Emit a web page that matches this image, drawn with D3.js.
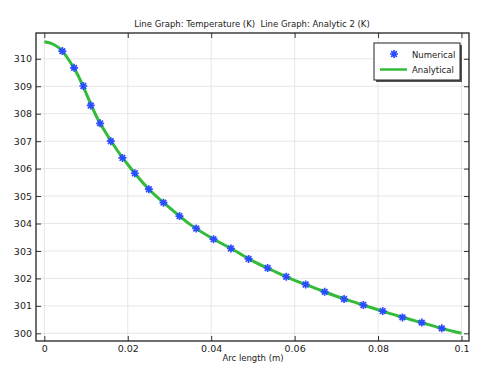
<!DOCTYPE html>
<html>
<head>
<meta charset="utf-8">
<script src="https://cdn.jsdelivr.net/npm/d3@7"></script>
<style>
  body { margin: 0; background: #fff; }
  svg { display: block; font-family: "DejaVu Sans", sans-serif; }
</style>
</head>
<body>
<div id="chart"></div>
<script>
// Numerical solution (markers)
const numX = [0.00432, 0.00713, 0.00936, 0.01113, 0.01337, 0.01593, 0.01872, 0.02169, 0.02505,
    0.02856, 0.0324, 0.0364, 0.04056, 0.04473, 0.04896, 0.05352, 0.058, 0.06264, 0.0672,
    0.07185, 0.07648, 0.08112, 0.08584, 0.09047, 0.09527];
const numT = [310.28, 309.67, 309.01, 308.30, 307.65, 307.00, 306.39, 305.83, 305.25,
    304.76, 304.27, 303.82, 303.43, 303.09, 302.71, 302.38, 302.06, 301.78, 301.51,
    301.25, 301.03, 300.81, 300.58, 300.39, 300.18];

// Analytical solution (line)
const anaX = [0, 0.002, 0.004, 0.006, 0.008, 0.01, 0.0125, 0.015, 0.0175, 0.02, 0.025, 0.03,
    0.035, 0.04, 0.045, 0.05, 0.055, 0.06, 0.065, 0.07, 0.075, 0.08, 0.085, 0.09, 0.095, 0.1];
const anaT = [310.62, 310.54, 310.33, 309.93, 309.42, 308.75, 307.90, 307.24, 306.66, 306.15,
    305.26, 304.58, 303.96, 303.48, 303.07, 302.63, 302.27, 301.93, 301.64, 301.35, 301.10,
    300.86, 300.62, 300.41, 300.19, 300.00];

const xTicks = [0, 0.02, 0.04, 0.06, 0.08, 0.1];
const yTicks = [300, 301, 302, 303, 304, 305, 306, 307, 308, 309, 310];

const width = 492, height = 373;
const margin = {top: 33, right: 23, bottom: 32, left: 36};
const innerWidth = width - margin.left - margin.right,
    innerHeight = height - margin.top - margin.bottom;

const svg = d3.select("#chart")
    .append("svg")
    .attr("width", width)
    .attr("height", height);

const g = svg.append("g")
    .attr("transform", "translate(" + margin.left + "," + margin.top + ")");

const x = d3.scaleLinear().domain([-0.002, 0.1018]).range([0, innerWidth]);
const y = d3.scaleLinear().domain([299.72, 310.94]).range([innerHeight, 0]);

// grid
g.append("g").selectAll("line").data(xTicks).enter().append("line")
    .attr("x1", d => x(d)).attr("x2", d => x(d))
    .attr("y1", 0).attr("y2", innerHeight)
    .attr("stroke", "#e6e6e6").attr("stroke-width", 1);
g.append("g").selectAll("line").data(yTicks).enter().append("line")
    .attr("x1", 0).attr("x2", innerWidth)
    .attr("y1", d => y(d)).attr("y2", d => y(d))
    .attr("stroke", "#e6e6e6").attr("stroke-width", 1);

// axes with inward ticks
const fmtX = d => d === 0 ? "0" : String(+d.toFixed(2));
const styleAxis = function (sel) {
    sel.attr("font-family", null).attr("font-size", 9.5);
    sel.select(".domain").remove();
    sel.selectAll("line").attr("stroke", "#333");
    sel.selectAll("text").attr("fill", "#222");
};
const noLabels = sel => sel.selectAll("text").remove();
g.append("g")
    .attr("transform", "translate(0," + innerHeight + ")")
    .call(d3.axisBottom(x).tickValues(xTicks).tickFormat(fmtX).tickSizeInner(-5).tickSizeOuter(0).tickPadding(4))
    .call(styleAxis);
g.append("g")
    .call(d3.axisTop(x).tickValues(xTicks).tickSizeInner(-5).tickSizeOuter(0))
    .call(styleAxis).call(noLabels);
g.append("g")
    .call(d3.axisLeft(y).tickValues(yTicks).tickFormat(d3.format("d")).tickSizeInner(-5).tickSizeOuter(0).tickPadding(4))
    .call(styleAxis);
g.append("g")
    .attr("transform", "translate(" + innerWidth + ",0)")
    .call(d3.axisRight(y).tickValues(yTicks).tickSizeInner(-5).tickSizeOuter(0))
    .call(styleAxis).call(noLabels);

// frame
g.append("rect")
    .attr("width", innerWidth).attr("height", innerHeight)
    .attr("fill", "none").attr("stroke", "#222").attr("stroke-width", 1.3);

// analytical line
const anaData = anaX.map((d, i) => ({x: d, t: anaT[i]}));
const line = d3.line().x(d => x(d.x)).y(d => y(d.t)).curve(d3.curveMonotoneX);
g.append("path")
    .datum(anaData)
    .attr("d", line)
    .attr("fill", "none")
    .attr("stroke", "#33bb3a")
    .attr("stroke-width", 3);

// numerical markers (asterisk)
const star = function (sel, r) {
    const a = r * Math.SQRT1_2;
    sel.append("path")
        .attr("d", "M" + (-r) + ",0H" + r + "M0," + (-r) + "V" + r +
            "M" + (-a) + "," + (-a) + "L" + a + "," + a + "M" + (-a) + "," + a + "L" + a + "," + (-a))
        .attr("stroke", "#2b4cff")
        .attr("stroke-width", 1.7)
        .attr("fill", "none");
};
const numData = numX.map((d, i) => ({x: d, t: numT[i]}));
g.selectAll(".pt").data(numData).enter().append("g")
    .attr("class", "pt")
    .attr("transform", d => "translate(" + x(d.x) + "," + y(d.t) + ")")
    .each(function () { star(d3.select(this), 4); });

// title and axis label
svg.append("text")
    .attr("x", 252).attr("y", 27)
    .attr("text-anchor", "middle")
    .attr("font-size", 8.5).style("white-space", "pre").attr("fill", "#222")
    .text("Line Graph: Temperature (K)  Line Graph: Analytic 2 (K)");
svg.append("text")
    .attr("x", 253).attr("y", 361)
    .attr("text-anchor", "middle")
    .attr("font-size", 8.5).attr("fill", "#222")
    .text("Arc length (m)");

// legend
const lg = svg.append("g").attr("transform", "translate(374,43)");
lg.append("rect").attr("x", 2).attr("y", 2).attr("width", 86).attr("height", 37).attr("fill", "#555");
lg.append("rect").attr("width", 86).attr("height", 37)
    .attr("fill", "#fff").attr("stroke", "#222").attr("stroke-width", 1);
star(lg.append("g").attr("transform", "translate(20,11)"), 4);
lg.append("line").attr("x1", 6).attr("x2", 33).attr("y1", 26.5).attr("y2", 26.5)
    .attr("stroke", "#33bb3a").attr("stroke-width", 2.5);
lg.append("text").attr("x", 38).attr("y", 14.5).attr("font-size", 8.5).attr("fill", "#222").text("Numerical");
lg.append("text").attr("x", 38).attr("y", 29.5).attr("font-size", 8.5).attr("fill", "#222").text("Analytical");
</script>
</body>
</html>
